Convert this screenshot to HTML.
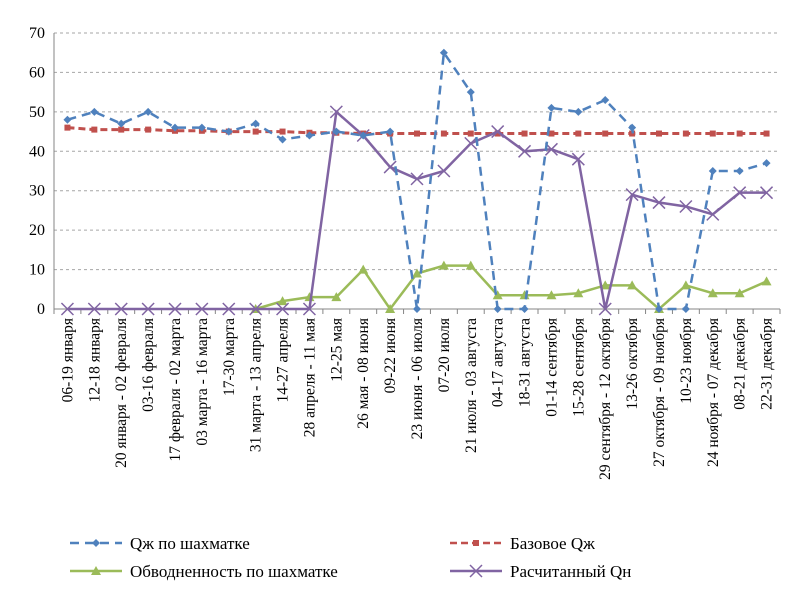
<!DOCTYPE html>
<html><head><meta charset="utf-8"><style>
body{margin:0;background:#fff}
svg{font-family:"Liberation Serif",serif}
</style></head><body>
<svg id="c" width="801" height="596"></svg>
<script>
const categories=["06-19 января","12-18 января","20 января - 02 февраля","03-16 февраля","17 февраля - 02 марта","03 марта - 16 марта","17-30 марта","31 марта - 13 апреля","14-27 апреля","28 апреля - 11  мая","12-25 мая","26 мая - 08 июня","09-22 июня","23 июня - 06 июля","07-20 июля","21 июля - 03 августа","04-17 августа","18-31 августа","01-14 сентября","15-28 сентября","29 сентября - 12 октября","13-26 октября","27 октября - 09 ноября","10-23 ноября","24 ноября - 07 декабря","08-21 декабря","22-31 декабря"];
const qzh=[48,50,47,50,46,46,45,47,43,44,45,44,45,0,65,55,0,0,51,50,53,46,0,0,35,35,37];
const base=[46,45.5,45.5,45.5,45.2,45.2,45,45,45,44.7,44.7,44.5,44.5,44.5,44.5,44.5,44.5,44.5,44.5,44.5,44.5,44.5,44.5,44.5,44.5,44.5,44.5];
const water=[null,null,null,null,null,null,null,0,2,3,3,10,0,9,11,11,3.5,3.5,3.5,4,6,6,0,6,4,4,7];
const qn=[0,0,0,0,0,0,0,0,0,0,50,44,36,33,35,42,45,40,40.5,38,0,29,27,26,24,29.5,29.5];
const yTicks=[0,10,20,30,40,50,60,70];
const NS="http://www.w3.org/2000/svg";
const svg=document.getElementById('c');
const X0=54,X1=780,Y0=309,Y1=33,YMAX=70;
const band=(X1-X0)/categories.length;
const xs=i=>X0+band*(i+0.5);
const ys=v=>Y0-(v/YMAX)*(Y0-Y1);
function el(t,a,p){const e=document.createElementNS(NS,t);for(const k in a)e.setAttribute(k,a[k]);(p||svg).appendChild(e);return e;}
yTicks.forEach(v=>{
  if(v>0){const g=el('line',{x1:X0,x2:X1,y1:ys(v),y2:ys(v),stroke:'#a6a6a6','stroke-dasharray':'3,3'});
  
  }
  const t=el('text',{x:X0-9,y:ys(v)+5,'text-anchor':'end','font-size':16,fill:'#000'});t.textContent=v;
  
  
});
const ax=el('line',{x1:X0,x2:X0,y1:Y1,y2:Y0,stroke:'#868686'});


const xa=el('line',{x1:X0,x2:X1,y1:Y0,y2:Y0,stroke:'#868686'});


for(let i=0;i<=categories.length;i++){el('line',{x1:X0+band*i,x2:X0+band*i,y1:Y0,y2:Y0+5,stroke:'#868686'});}
categories.forEach((c,i)=>{
  const t=el('text',{x:0,y:0,'text-anchor':'end','font-size':15.5,transform:`translate(${xs(i)+5},318) rotate(-90)`});t.textContent=c;
  
  
});
function series(data,color,dash,width,marker,name){
  const g=el('g',{});
  
  
  let d='';let started=false;
  data.forEach((v,i)=>{if(v===null){started=false;return;}d+=(started?'L':'M')+xs(i)+','+ys(v);started=true;});
  el('path',{d:d,fill:'none',stroke:color,'stroke-width':width,'stroke-dasharray':dash||'none'},g);
  data.forEach((v,i)=>{if(v===null)return;marker(g,xs(i),ys(v),color);});
}
const diamond=(g,x,y,c)=>el('path',{d:`M${x},${y-4}L${x+4},${y}L${x},${y+4}L${x-4},${y}Z`,fill:c},g);
const sq=(g,x,y,c)=>el('rect',{x:x-3,y:y-3,width:6,height:6,fill:c},g);
const tri=(g,x,y,c)=>el('path',{d:`M${x},${y-5}L${x+5},${y+4}L${x-5},${y+4}Z`,fill:c},g);
const cross=(g,x,y,c)=>el('path',{d:`M${x-6},${y-6}L${x+6},${y+6}M${x+6},${y-6}L${x-6},${y+6}`,stroke:c,'stroke-width':1.5},g);
series(base,'#c0504d','7,4',3,sq,'series-base-qzh');
series(water,'#9bbb59',null,2.5,tri,'series-water-cut');
series(qn,'#8064a2',null,2.5,cross,'series-qn');
series(qzh,'#4f81bd','9,6',2.5,diamond,'series-qzh');
const leg=[["Qж по шахматке",'#4f81bd','9,6',diamond,70,543],["Базовое Qж",'#c0504d','7,4',sq,450,543],["Обводненность по шахматке",'#9bbb59',null,tri,70,571],["Расчитанный Qн",'#8064a2',null,cross,450,571]];
leg.forEach(l=>{
  const g=el('g',{});
  
  
  el('line',{x1:l[4],x2:l[4]+52,y1:l[5],y2:l[5],stroke:l[1],'stroke-width':2.5,'stroke-dasharray':l[2]||'none'},g);
  l[3](g,l[4]+26,l[5],l[1]);
  const t=el('text',{x:l[4]+60,y:l[5]+6,'font-size':17},g);t.textContent=l[0];
});
</script>
</body></html>
